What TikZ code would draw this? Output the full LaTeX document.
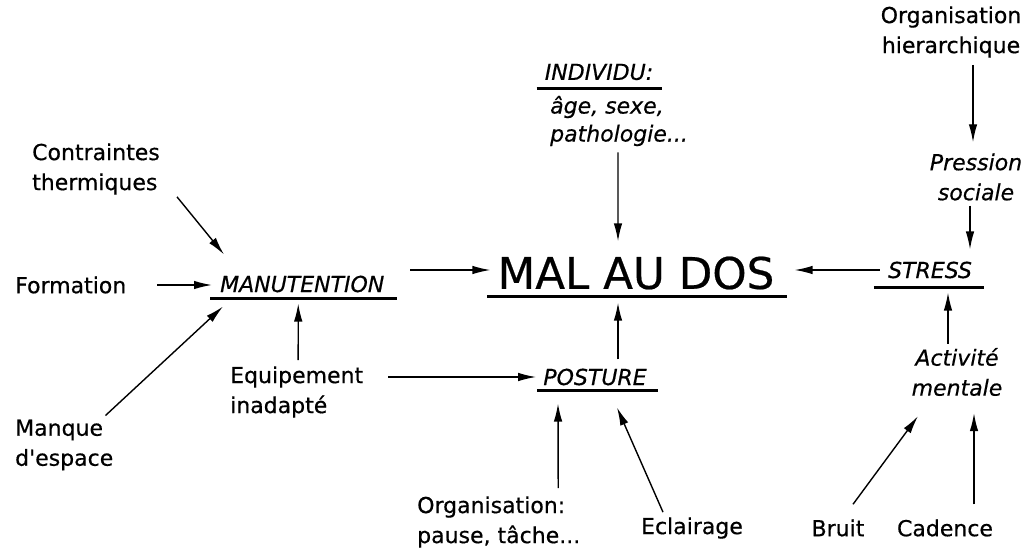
\documentclass[tikz,border=0pt]{standalone}
\usepackage{fontspec}
\setmainfont{DejaVu Sans}[FakeBold=0.5,ItalicFont={DejaVu Sans Oblique},ItalicFeatures={FakeBold=0.5}]
\usetikzlibrary{arrows.meta}
\begin{document}
\begin{tikzpicture}[x=1pt,y=-1pt,
  txt/.style={inner sep=0pt, font=\fontsize{22}{30}\selectfont},
  it/.style={inner sep=0pt, font=\fontsize{22}{30}\selectfont\itshape},
  itsm/.style={inner sep=0pt, font=\fontsize{22}{28}\selectfont\itshape},
  big/.style={inner sep=0pt, font=\fontsize{43.6}{50}\selectfont},
  arr/.style={-{Latex[length=18pt,width=8.5pt]}, line width=1.4pt},
  ul/.style={line width=2.4pt}]
\fill[white] (0,0) rectangle (1028,554);
\useasboundingbox (0,0) rectangle (1028,554);

% nodes
\node[txt, anchor=west] (form) at (15,285) {Formation};
\node[txt, anchor=west, align=left] (contr) at (32,169) {Contraintes\\thermiques};
\node[txt, anchor=west, align=left] (manque) at (15,445) {Manque\\d\textquotesingle espace};
\node[it, anchor=west] (manut) at (220,284) {MANUTENTION};
\node[txt, anchor=west, align=left] (equip) at (230,392) {Equipement\\inadapté};
\node[it] (posture) at (595,377) {POSTURE};
\node[big] (mal) at (636,273) {MAL AU DOS};
\node[it] (indiv) at (599,72) {INDIVIDU:};
\node[itsm, anchor=west, align=left] (indiv2) at (550,121) {âge, sexe,\\pathologie...};
\node[txt, anchor=west, align=left] (orgp) at (417,522) {Organisation:\\pause, tâche...};
\node[txt] (eclair) at (692,528) {Eclairage};
\node[txt, align=center] (orgh) at (951,32) {Organisation\\hierarchique};
\node[it, align=center] (press) at (976,177) {Pression\\sociale};
\node[it] (stress) at (930,270) {STRESS};
\node[it, align=center] (activ) at (957,372) {Activité\\mentale};
\node[txt] (bruit) at (838,528) {Bruit};
\node[txt] (cadence) at (945,528) {Cadence};

% underlines
\draw[ul] ([shift={(-10,6)}]manut.south west) -- ([shift={(13,6)}]manut.south east);
\draw[ul] ([shift={(-10,7)}]mal.south west) -- ([shift={(12,7)}]mal.south east);
\draw[ul] ([shift={(-8,8)}]indiv.south west) -- ([shift={(9,8)}]indiv.south east);
\draw[ul] ([shift={(-6,5)}]posture.south west) -- ([shift={(11,5)}]posture.south east);
\draw[ul] ([shift={(-14,9)}]stress.south west) -- ([shift={(12,9)}]stress.south east);

% connectors
\draw[arr] ([shift={(17,2)}]contr.south east) -- ([shift={(4,-21)}]manut.north west);
\draw[arr] ([shift={(31,0)}]form.east) -- ([shift={(-8,1)}]manut.west);
\draw[arr] ([shift={(-8,-4)}]manque.north east) -- ([shift={(3,14)}]manut.south west);
\draw[arr] ([shift={(1.5,-6)}]equip.north) -- ([shift={(-4,11)}]manut.south);
\draw[arr] ([shift={(26,-14)}]manut.east) -- ([shift={(-7,-3)}]mal.west);
\draw[arr] ([shift={(25,-15)}]equip.east) -- ([shift={(-7,0)}]posture.west);
\draw[arr] ([shift={(-1,6)}]indiv2.south) -- ([shift={(-18,-15)}]mal.north);
\draw[arr] ([shift={(23,-9)}]posture.north) -- ([shift={(-18,13)}]mal.south);
\draw[arr] ([shift={(59.5,-8)}]orgp.north) -- ([shift={(-37,18)}]posture.south);
\draw[arr] ([shift={(-29,-5)}]eclair.north) -- ([shift={(22,22)}]posture.south);
\draw[arr] ([shift={(22,7)}]orgh.south) -- ([shift={(-3,-11)}]press.north);
\draw[arr] ([shift={(-6,5)}]press.south) -- ([shift={(40,-12)}]stress.north);
\draw[arr] ([shift={(-8,0)}]stress.west) -- ([shift={(20,-3)}]mal.east);
\draw[arr] ([shift={(-9,-4)}]activ.north) -- ([shift={(18,14)}]stress.south);
\draw[arr] ([shift={(15,-15)}]bruit.north) -- ([shift={(-39,20)}]activ.south);
\draw[arr] ([shift={(29,-15)}]cadence.north) -- ([shift={(17,17)}]activ.south);
\end{tikzpicture}
\end{document}
